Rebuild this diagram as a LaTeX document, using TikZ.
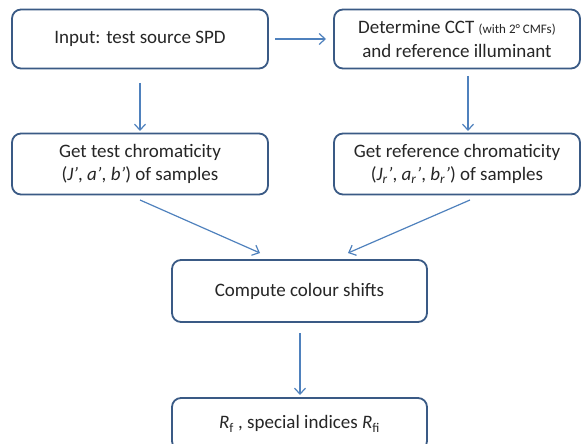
\documentclass[tikz,border=0pt]{standalone}
\usepackage{fontspec}
\setmainfont{Carlito}
\usetikzlibrary{arrows.meta}
\definecolor{boxline}{HTML}{3A5A85}
\definecolor{arrowc}{HTML}{4F81BD}
\definecolor{textc}{HTML}{262626}
\newcommand{\sbr}[1]{\textsubscript{\textit{#1}}}
\begin{document}
\begin{tikzpicture}[x=1pt,y=-1pt,
  flowbox/.style={draw=boxline,line width=1.8pt,rounded corners=9pt,fill=white,
    text=textc,align=center,font=\fontsize{19}{23.5}\selectfont,inner sep=0pt},
  flowarrow/.style={draw=arrowc,line width=1.2pt,-{Straight Barb[length=6pt,width=11pt]}}]
\useasboundingbox (0,0) rectangle (582,444);
\node[flowbox,minimum width=256pt,minimum height=59pt] (input) at (140,39) {Input: test source SPD};
\node[flowbox,minimum width=246pt,minimum height=59pt] (cct) at (457,39)
  {Determine CCT {\fontsize{13}{15}\selectfont (with 2° CMFs)}\\and reference illuminant};
\node[flowbox,minimum width=256pt,minimum height=61pt] (testc) at (140,164)
  {Get test chromaticity\\(\textit{J'}, \textit{a'}, \textit{b'}) of samples};
\node[flowbox,minimum width=246pt,minimum height=61pt] (refc) at (457,164)
  {Get reference chromaticity\\(\textit{J}\sbr{r}\textit{'}, \textit{a}\sbr{r}\textit{'}, \textit{b}\sbr{r}\textit{'}) of samples};
\node[flowbox,minimum width=255pt,minimum height=62pt] (shift) at (299.5,291) {Compute colour shifts};
\node[flowbox,minimum width=255pt,minimum height=52pt] (result) at (299.5,424)
  {\textit{R}\textsubscript{f} , special indices \textit{R}\textsubscript{fi}};
\coordinate (a1s) at (275,39);
\coordinate (a1e) at (326,39);
\draw[flowarrow] (a1s) -- (a1e);
\coordinate (a2s) at (140,83);
\coordinate (a2e) at (140,131);
\draw[flowarrow] (a2s) -- (a2e);
\coordinate (a3s) at (468,76);
\coordinate (a3e) at (468,131);
\draw[flowarrow] (a3s) -- (a3e);
\coordinate (a4s) at (140,200);
\coordinate (a4e) at (260,253);
\draw[flowarrow] (a4s) -- (a4e);
\coordinate (a5s) at (470,200);
\coordinate (a5e) at (348,253);
\draw[flowarrow] (a5s) -- (a5e);
\coordinate (a6s) at (300,333);
\coordinate (a6e) at (300,395);
\draw[flowarrow] (a6s) -- (a6e);
\end{tikzpicture}
\end{document}
